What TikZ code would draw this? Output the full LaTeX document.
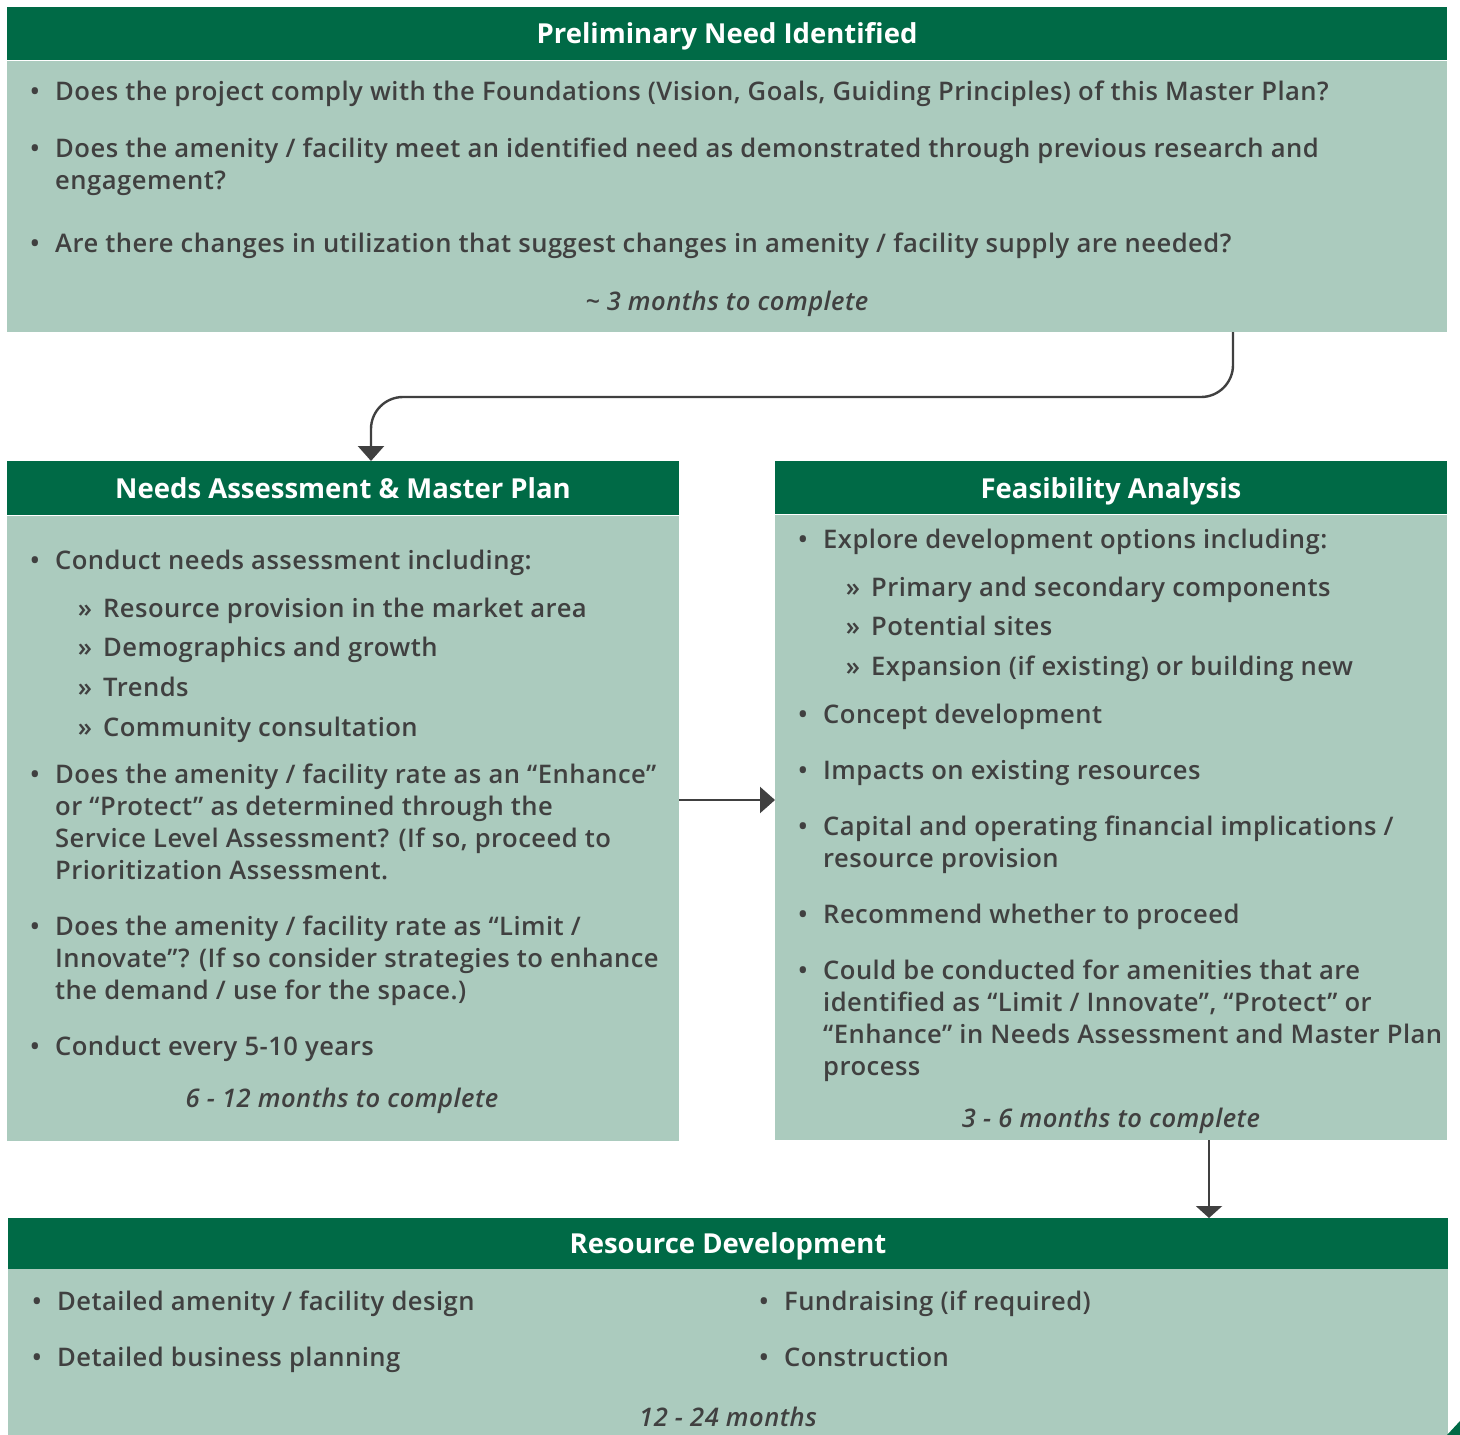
\documentclass[tikz,border=0pt]{standalone}
\usepackage{fontspec}
\IfFontExistsTF{Open Sans Semibold}{%
  \setmainfont{Open Sans Semibold}[LetterSpace=1.8]\def\bsz{25.6}%
}{\IfFontExistsTF{Open Sans SemiBold}{%
  \setmainfont{Open Sans SemiBold}[LetterSpace=1.8]\def\bsz{25.6}%
}{%
  \setmainfont{Open Sans}[FakeBold=0.6]\def\bsz{27}%
}}
\newfontfamily\hdrfont{Open Sans}
\usetikzlibrary{arrows.meta}
\definecolor{dkgreen}{HTML}{006A46}
\definecolor{ltgreen}{HTML}{ABCBBE}
\definecolor{txtgray}{HTML}{404040}
\newcommand\itm[4]{\node[txt,anchor=base] (#1b) at (#2-20,#3+1) {\textbullet}; \node[txt,anchor=base west] (#1) at (#2,#3+1) {#4};}
\newcommand\subitm[4]{\node[txt,anchor=base] (#1b) at (#2-18,#3+1) {»}; \node[txt,anchor=base west] (#1) at (#2,#3+1) {#4};}
\newcommand\cnt[4]{\node[txt,anchor=base west] (#1) at (#2,#3+1) {#4};}
\begin{document}
\begin{tikzpicture}[x=1pt,y=-1pt,
  hdr/.style={fill=dkgreen,draw=none,inner sep=0,outer sep=0,anchor=north west},
  bdy/.style={fill=ltgreen,draw=none,inner sep=0,outer sep=0,anchor=north west},
  htxt/.style={text=white,font=\hdrfont\fontsize{27.5}{32}\selectfont\bfseries,inner sep=0,anchor=base},
  txt/.style={text=txtgray,font=\fontsize{\bsz}{32}\selectfont,inner sep=0},
  dur/.style={text=txtgray,font=\fontsize{\bsz}{32}\selectfont\itshape,inner sep=0,anchor=base},
  arr/.style={draw=txtgray,line width=2.4pt},
  tip/.style={-{Triangle[width=26pt,length=15pt]}}
]
\useasboundingbox (0,0) rectangle (1460,1435);
% Box 1
\node[hdr,minimum width=1440pt,minimum height=53pt] (h1) at (7,7) {};
\node[bdy,minimum width=1440pt,minimum height=271pt] (b1) at (7,61) {};
\node[htxt] (t1) at (727,43) {Preliminary Need Identified};
\itm{a1}{55}{99}{Does the project comply with the Foundations (Vision, Goals, Guiding Principles) of this Master Plan?}
\itm{a2}{55}{156}{Does the amenity / facility meet an identified need as demonstrated through previous research and}
\cnt{a2c}{55}{188}{engagement?}
\itm{a3}{55}{251}{Are there changes in utilization that suggest changes in amenity / facility supply are needed?}
\node[dur] (d1) at (727,310) {\textasciitilde{} 3 months to complete};
% Box 2
\node[hdr,minimum width=672pt,minimum height=54pt] (h2) at (7,461) {};
\node[bdy,minimum width=672pt,minimum height=625pt] (b2) at (7,516) {};
\node[htxt] (t2) at (343,498) {Needs Assessment \& Master Plan};
\itm{c1}{55}{568}{Conduct needs assessment including:}
\subitm{c1a}{103}{616}{Resource provision in the market area}
\subitm{c1b}{103}{655}{Demographics and growth}
\subitm{c1c}{103}{695}{Trends}
\subitm{c1d}{103}{735}{Community consultation}
\itm{c2}{55}{782}{Does the amenity / facility rate as an “Enhance”}
\cnt{c2a}{55}{814}{or “Protect” as determined through the}
\cnt{c2b}{55}{846}{Service Level Assessment? (If so, proceed to}
\cnt{c2c}{55}{878}{Prioritization Assessment.}
\itm{c3}{55}{934}{Does the amenity / facility rate as “Limit /}
\cnt{c3a}{55}{966}{Innovate”? (If so consider strategies to enhance}
\cnt{c3b}{55}{998}{the demand / use for the space.)}
\itm{c4}{55}{1054}{Conduct every 5-10 years}
\node[dur] (d2) at (342,1107) {6 - 12 months to complete};
% Box 3
\node[hdr,minimum width=672pt,minimum height=53pt] (h3) at (775,461) {};
\node[bdy,minimum width=672pt,minimum height=625pt] (b3) at (775,515) {};
\node[htxt] (t3) at (1111,498) {Feasibility Analysis};
\itm{f1}{823}{547}{Explore development options including:}
\subitm{f1a}{871}{595}{Primary and secondary components}
\subitm{f1b}{871}{634}{Potential sites}
\subitm{f1c}{871}{674}{Expansion (if existing) or building new}
\itm{f2}{823}{722}{Concept development}
\itm{f3}{823}{778}{Impacts on existing resources}
\itm{f4}{823}{834}{Capital and operating financial implications /}
\cnt{f4a}{823}{866}{resource provision}
\itm{f5}{823}{922}{Recommend whether to proceed}
\itm{f6}{823}{978}{Could be conducted for amenities that are}
\cnt{f6a}{823}{1010}{identified as “Limit / Innovate”, “Protect” or}
\cnt{f6b}{823}{1042}{“Enhance” in Needs Assessment and Master Plan}
\cnt{f6c}{823}{1074}{process}
\node[dur] (d3) at (1111,1127) {3 - 6 months to complete};
% Box 4
\node[hdr,minimum width=1440pt,minimum height=51pt] (h4) at (8,1218) {};
\node[bdy,minimum width=1440pt,minimum height=166pt] (b4) at (8,1269) {};
\node[htxt] (t4) at (728,1253) {Resource Development};
\itm{r1}{57}{1309}{Detailed amenity / facility design}
\itm{r2}{57}{1365}{Detailed business planning}
\itm{r3}{784}{1309}{Fundraising (if required)}
\itm{r4}{784}{1365}{Construction}
\node[dur] (d4) at (728,1426) {12 - 24 months};
\fill[dkgreen] (1447,1435) -- (1460,1435) -- (1460,1421) -- cycle;
% Connectors
\coordinate (s1) at (1233,332);
\coordinate (e1) at (371,461);
\draw[arr,tip,rounded corners=32pt] (s1) -- (s1 |- 0,397) -- (e1 |- 0,397) -- (e1);
\draw[arr,tip] (b2.east |- 0,800) -- (b3.west |- 0,800);
\coordinate (s3) at (1209,1140);
\draw[arr,-{Triangle[width=26pt,length=12pt]}] (s3) -- (s3 |- h4.north);
\end{tikzpicture}
\end{document}
